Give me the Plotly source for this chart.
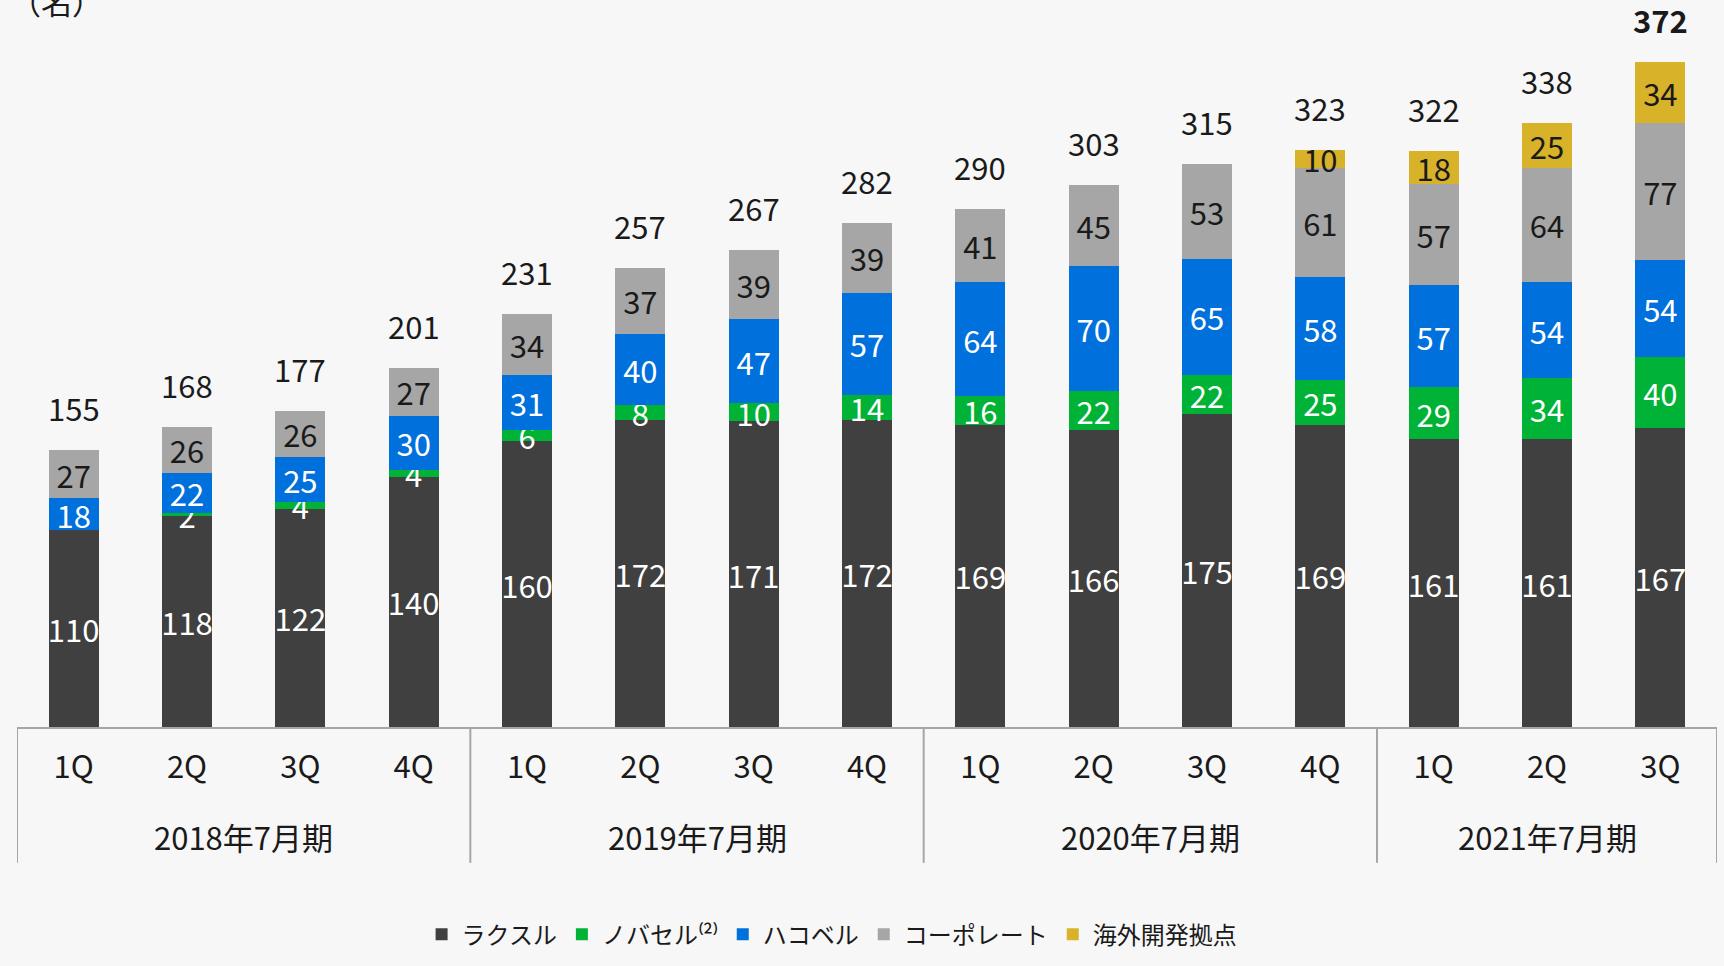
import plotly.graph_objects as go

# -------------------------
# Data
# -------------------------
years = ["2018年7月期"] * 4 + ["2019年7月期"] * 4 + ["2020年7月期"] * 4 + ["2021年7月期"] * 3
quarters = ["1Q", "2Q", "3Q", "4Q"] * 3 + ["1Q", "2Q", "3Q"]

raksul = [110, 118, 122, 140, 160, 172, 171, 172, 169, 166, 175, 169, 161, 161, 167]
novasell = [0, 2, 4, 4, 6, 8, 10, 14, 16, 22, 22, 25, 29, 34, 40]
hacobell = [18, 22, 25, 30, 31, 40, 47, 57, 64, 70, 65, 58, 57, 54, 54]
corporate = [27, 26, 26, 27, 34, 37, 39, 39, 41, 45, 53, 61, 57, 64, 77]
overseas = [0, 0, 0, 0, 0, 0, 0, 0, 0, 0, 0, 10, 18, 25, 34]

series = [
    ("ラクスル", raksul, "#404040", "white"),
    ("ノバセル⁽²⁾", novasell, "#00b236", "white"),
    ("ハコベル", hacobell, "#0070dd", "white"),
    ("コーポレート", corporate, "#a6a6a6", "#1a1a1a"),
    ("海外開発拠点", overseas, "#d8b228", "#1a1a1a"),
]

FONT = "Noto Sans CJK JP"
GRID = "#a6a6a6"

# unique category key per bar, shown with the quarter label
keys = [f"{y} {q}" for y, q in zip(years, quarters)]

fig = go.Figure()

for name, vals, color, tcolor in series:
    fig.add_trace(go.Bar(
        x=keys,
        y=vals,
        name=name,
        marker=dict(color=color, line_width=0),
        text=[str(v) if v else "" for v in vals],
        textposition="inside",
        insidetextanchor="middle",
        textangle=0,
        constraintext="none",
        textfont=dict(family=FONT, size=31, color=tcolor),
        hoverinfo="skip",
    ))

# -------------------------
# Totals on top
# -------------------------
totals = [sum(s[1][i] for s in series) for i in range(len(keys))]
for i, t in enumerate(totals):
    last = i == len(totals) - 1
    fig.add_annotation(
        x=keys[i], y=t, text=f"<b>{t}</b>" if last else str(t),
        showarrow=False, yanchor="bottom", yshift=18,
        font=dict(family=FONT, size=31, color="#1a1a1a"),
    )

# -------------------------
# Fiscal year groups: labels + dividers
# -------------------------
groups = []
for i, y in enumerate(years):
    if not groups or groups[-1][0] != y:
        groups.append([y, i, i])
    else:
        groups[-1][2] = i

for y, i0, i1 in groups:
    fig.add_annotation(
        x=(i0 + i1) / 2, y=0, yref="paper", text=y, showarrow=False,
        yanchor="middle", yshift=-109,
        font=dict(family=FONT, size=31, color="#1a1a1a"),
    )
    fig.add_shape(type="line", xref="x", yref="paper",
                  x0=i0 - 0.5, x1=i0 - 0.5, y0=0, y1=-0.19,
                  line=dict(color=GRID, width=2))
fig.add_shape(type="line", xref="x", yref="paper",
              x0=groups[-1][2] + 0.5, x1=groups[-1][2] + 0.5, y0=0, y1=-0.19,
              line=dict(color=GRID, width=2))

# unit label, cut at top edge
fig.add_annotation(
    xref="paper", yref="paper", x=0, y=1, xanchor="left", yanchor="bottom",
    xshift=-9, yshift=-13, text="（名）", showarrow=False,
    font=dict(family=FONT, size=31, color="#1a1a1a"),
)

# -------------------------
# Layout
# -------------------------
fig.update_layout(
    width=1724,
    height=966,
    barmode="stack",
    bargap=0.56,
    margin=dict(l=17, r=7, t=12, b=239),
    plot_bgcolor="#f7f7f7",
    paper_bgcolor="#f7f7f7",
    font=dict(family=FONT, color="#1a1a1a"),
    showlegend=True,
    legend=dict(
        orientation="h", x=0.238, xanchor="left", y=-0.322, yanchor="bottom",
        font=dict(family=FONT, size=24, color="#1a1a1a"),
        traceorder="normal", bgcolor="rgba(0,0,0,0)", itemwidth=30,
    ),
)

fig.update_xaxes(
    type="category",
    tickvals=keys, ticktext=quarters,
    range=[-0.5, len(keys) - 0.5],
    showline=True, linecolor=GRID, linewidth=2,
    ticks="", ticklabelstandoff=12,
    tickfont=dict(family=FONT, size=31, color="#1a1a1a"),
    showgrid=False, fixedrange=True,
)
fig.update_yaxes(
    range=[0, 400], visible=False, showgrid=False, zeroline=False, fixedrange=True,
)

fig.write_html("out.html", config={"displayModeBar": False},
               post_script="document.body.style.margin='0';")
